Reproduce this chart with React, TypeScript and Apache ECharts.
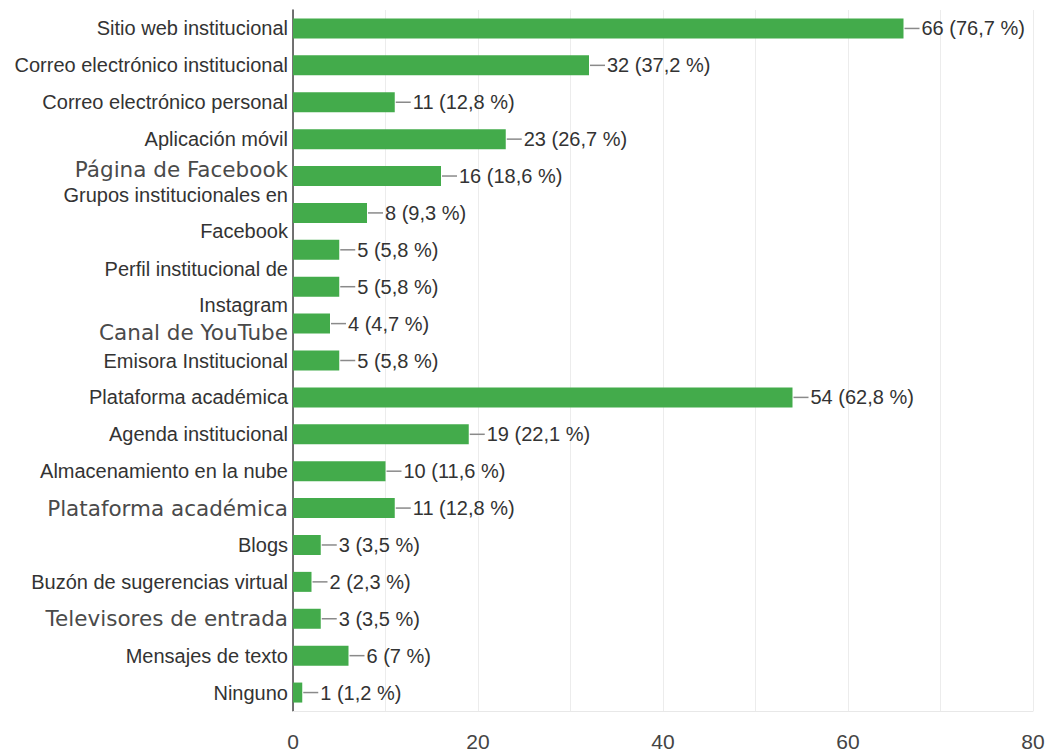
import React, { useEffect, useRef } from "react";
import * as echarts from "echarts";

const categories = [
  "Sitio web institucional",
  "Correo electrónico institucional",
  "Correo electrónico personal",
  "Aplicación móvil",
  "Página de Facebook",
  "Grupos institucionales en\nFacebook",
  "",
  "Perfil institucional de\nInstagram",
  "Canal de YouTube",
  "Emisora Institucional",
  "Plataforma académica",
  "Agenda institucional",
  "Almacenamiento en la nube",
  "Plataforma académica",
  "Blogs",
  "Buzón de sugerencias virtual",
  "Televisores de entrada",
  "Mensajes de texto",
  "Ninguno",
];

const values = [66, 32, 11, 23, 16, 8, 5, 5, 4, 5, 54, 19, 10, 11, 3, 2, 3, 6, 1];

const percents = [
  "76,7", "37,2", "12,8", "26,7", "18,6", "9,3", "5,8", "5,8", "4,7", "5,8",
  "62,8", "22,1", "11,6", "12,8", "3,5", "2,3", "3,5", "7", "1,2",
];

const xTicks = [0, 20, 40, 60, 80];

// label style key per category row (n = narrow, r = regular, up / dn = shifted)
const labelStyleKeys = [
  "n", "n", "n", "n", "rup", "n", "n", "n", "rdn", "n",
  "n", "n", "n", "r", "n", "n", "r", "n", "n",
];

const NARROW = "'Liberation Sans', Arial, sans-serif";
const REGULAR = "'DejaVu Sans', Verdana, sans-serif";
const TXT = "#333333";
const TXT_R = "#4a4a4a";

export default function App() {
  const ref = useRef<HTMLDivElement>(null);

  useEffect(() => {
    if (!ref.current) return;
    const chart = echarts.init(ref.current, null, { renderer: "svg" });

    const option = {
      animation: false,
      backgroundColor: "#ffffff",
      grid: {
        left: 293,
        right: 14,
        top: 10,
        bottom: 44,
        containLabel: false,
        outerBoundsMode: "none",
      },
      xAxis: {
        type: "value",
        min: 0,
        max: 80,
        interval: 10,
        axisLine: { show: true, lineStyle: { color: "#e8e8e8", width: 1 } },
        axisTick: { show: false },
        splitLine: { show: true, lineStyle: { color: "#ececec", width: 1 } },
        axisLabel: {
          margin: 20,
          color: "#444",
          fontFamily: NARROW,
          fontSize: 21,
          formatter: (v: number) => (xTicks.includes(v) ? String(v) : ""),
        },
      },
      yAxis: {
        type: "category",
        inverse: true,
        data: categories,
        axisLine: { show: true, lineStyle: { color: "#444", width: 1.5 } },
        axisTick: { show: false },
        splitLine: { show: false },
        axisLabel: {
          margin: 5,
          interval: 0,
          formatter: (v: string, idx: number) => {
            if (!v) return "";
            const key = labelStyleKeys[idx];
            return v
              .split("\n")
              .map((line) => `{${key}|${line}}`)
              .join("\n");
          },
          rich: {
            n: { fontFamily: NARROW, fontSize: 20, color: TXT, lineHeight: 36 },
            r: { fontFamily: REGULAR, fontSize: 21.5, color: TXT_R, lineHeight: 26 },
            rup: {
              fontFamily: REGULAR,
              fontSize: 21.5,
              color: TXT_R,
              lineHeight: 26,
              padding: [0, 0, 14, 0],
            },
            rdn: {
              fontFamily: REGULAR,
              fontSize: 21.5,
              color: TXT_R,
              lineHeight: 26,
              padding: [18, 0, 0, 0],
            },
          },
        },
      },
      series: [
        {
          type: "bar",
          data: values,
          barWidth: 20,
          itemStyle: { color: "#43ab4b" },
          label: {
            show: true,
            position: "right",
            distance: 1,
            formatter: (p: any) => `{l|}{t|${p.value} (${percents[p.dataIndex]} %)}`,
            rich: {
              l: { width: 15, height: 1.5, backgroundColor: "#8a8a8a" },
              t: {
                fontFamily: NARROW,
                fontSize: 20,
                color: TXT,
                padding: [0, 0, 0, 2],
              },
            },
          },
        },
      ],
    };

    chart.setOption(option as any);
    return () => chart.dispose();
  }, []);

  return (
    <div
      ref={ref}
      style={{ position: "absolute", left: 0, top: 0, width: 1047, height: 755 }}
    />
  );
}
